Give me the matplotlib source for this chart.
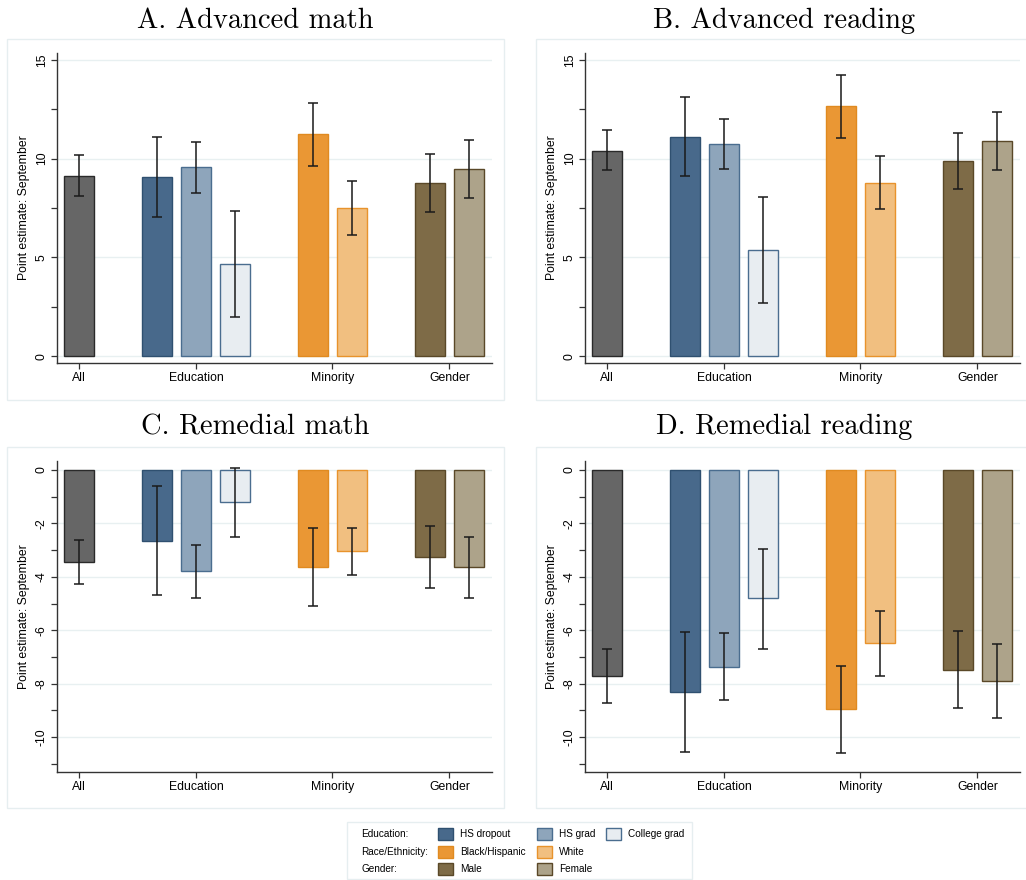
import numpy as np
import matplotlib
matplotlib.use("Agg")
import matplotlib.pyplot as plt
from matplotlib.patches import Rectangle

plt.rcParams['font.family'] = ['Liberation Sans', 'DejaVu Sans']
plt.rcParams['axes.unicode_minus'] = False

# groups, in plotting order
groups = ["All", "HS dropout", "HS grad", "College grad",
          "Black/Hispanic", "White", "Male", "Female"]
group_ticks = ["All", "Education", "Minority", "Gender"]

# point estimates and 95% CI bounds
adv_math_est = [9.14, 9.09, 9.58, 4.66, 11.23, 7.50, 8.78, 9.49]
adv_math_lo = [8.11, 7.03, 8.28, 1.99, 9.63, 6.15, 7.28, 8.02]
adv_math_hi = [10.17, 11.11, 10.86, 7.35, 12.80, 8.87, 10.24, 10.95]

adv_read_est = [10.41, 11.12, 10.73, 5.38, 12.66, 8.79, 9.87, 10.89]
adv_read_lo = [9.40, 9.11, 9.47, 2.68, 11.07, 7.44, 8.44, 9.43]
adv_read_hi = [11.46, 13.13, 12.02, 8.08, 14.23, 10.13, 11.32, 12.35]

rem_math_est = [-3.45, -2.64, -3.79, -1.21, -3.64, -3.04, -3.25, -3.64]
rem_math_lo = [-4.26, -4.69, -4.79, -2.52, -5.11, -3.93, -4.40, -4.78]
rem_math_hi = [-2.63, -0.59, -2.79, 0.06, -2.18, -2.16, -2.10, -2.51]

rem_read_est = [-7.71, -8.33, -7.37, -4.81, -8.96, -6.47, -7.49, -7.90]
rem_read_lo = [-8.73, -10.57, -8.61, -6.69, -10.61, -7.70, -8.92, -9.28]
rem_read_hi = [-6.71, -6.07, -6.11, -2.94, -7.34, -5.27, -6.02, -6.51]

# bar layout and colours
positions = np.array([0, 2, 3, 4, 6, 7, 9, 10])
tick_pos = [0, 3, 6.5, 9.5]
fills = ["#666666", "#48698b", "#8ea5bb", "#e8edf1",
         "#ea9734", "#f1bf80", "#7e6b47", "#ada38a"]
edges = ["#2a2a2a", "#2f5070", "#4a6d8f", "#4a6d8f",
         "#e08a20", "#e8932c", "#5a4828", "#5a4828"]

W, H = 1026, 880
fig = plt.figure(figsize=(W / 100, H / 100), dpi=100)


def fx(x):
    return x / W


def fy(y):
    return 1 - y / H


panels = [
    ("A. Advanced math", adv_math_est, adv_math_lo, adv_math_hi, 57, 53, 363),
    ("B. Advanced reading", adv_read_est, adv_read_lo, adv_read_hi, 585, 53, 363),
    ("C. Remedial math", rem_math_est, rem_math_lo, rem_math_hi, 57, 460.7, 771.7),
    ("D. Remedial reading", rem_read_est, rem_read_lo, rem_read_hi, 585, 460.7, 771.7),
]

for i, (title, est, lo, hi, left, top, bottom) in enumerate(panels):
    est = np.array(est)
    lo = np.array(lo)
    hi = np.array(hi)
    ax = fig.add_axes([fx(left), fy(bottom), fx(435), (bottom - top) / H])

    # panel frame and title
    col = i % 2
    fl = 7 if col == 0 else 536
    fr = 504 if col == 0 else 1034
    ft = 39 if i < 2 else 447
    fb = 400 if i < 2 else 808
    fig.patches.append(Rectangle((fx(fl), fy(fb)), fx(fr - fl), (fb - ft) / H,
                                 transform=fig.transFigure, fill=False,
                                 edgecolor="#e6eef0", lw=1, zorder=0))
    tcx = 255.5 if col == 0 else 784
    tby = 28 if i < 2 else 434
    fig.text(fx(tcx), fy(tby), title, family="cmr10", fontsize=20.5,
             ha="center", va="baseline")

    ax.bar(positions, est, width=0.77, color=fills, edgecolor=edges,
           linewidth=1, zorder=2)
    ax.errorbar(positions, est, yerr=[est - lo, hi - est], fmt="none",
                ecolor="#1a1a1a", elinewidth=1.1, capsize=3.5,
                capthick=1.1, zorder=3)

    ax.set_xlim(-0.56, 10.59)
    if i < 2:
        ax.set_ylim(-0.35, 15.35)
        ax.set_yticks([0, 5, 10, 15])
        ax.set_yticks([2.5, 7.5, 12.5], minor=True)
    else:
        ax.set_ylim(-11.3, 0.35)
        ax.set_yticks([0, -2, -4, -6, -8, -10])
        ax.set_yticks([-1, -3, -5, -7, -9, -11], minor=True)

    ax.set_xticks(tick_pos)
    ax.set_xticklabels(group_ticks)
    for lab in ax.get_yticklabels():
        lab.set_rotation(90)
        lab.set_va("center")

    ax.tick_params(axis="both", which="both", direction="out", length=4.5,
                   width=0.9, color="#333333", labelsize=8.8, pad=2)
    ax.grid(axis="y", which="major", color="#e8f0f1", lw=1, zorder=0)
    ax.set_axisbelow(True)
    for s in ["top", "right"]:
        ax.spines[s].set_visible(False)
    for s in ["left", "bottom"]:
        ax.spines[s].set_color("#333333")
        ax.spines[s].set_linewidth(1)
    ax.set_ylabel("Point estimate: September", fontsize=8.8, labelpad=4)

# legend box
fig.patches.append(Rectangle((fx(347), fy(879)), fx(345), 57 / H,
                             transform=fig.transFigure, fill=False,
                             edgecolor="#e6eef0", lw=1))
legend_rows = [
    ("Education:", [1, 2, 3]),
    ("Race/Ethnicity:", [4, 5]),
    ("Gender:", [6, 7]),
]
row_y = [834, 852, 869]
sw_x = [438, 537, 606]
for (label, idx), yy in zip(legend_rows, row_y):
    fig.text(fx(361), fy(yy), label, fontsize=7.2, va="center", ha="left")
    for k, j in enumerate(idx):
        fig.patches.append(Rectangle((fx(sw_x[k]), fy(yy + 6)), fx(15), 12 / H,
                                     transform=fig.transFigure,
                                     facecolor=fills[j], edgecolor=edges[j],
                                     lw=1))
        fig.text(fx(sw_x[k] + 22), fy(yy), groups[j], fontsize=7.2,
                 va="center", ha="left")

fig.savefig("out.png", dpi=100)
